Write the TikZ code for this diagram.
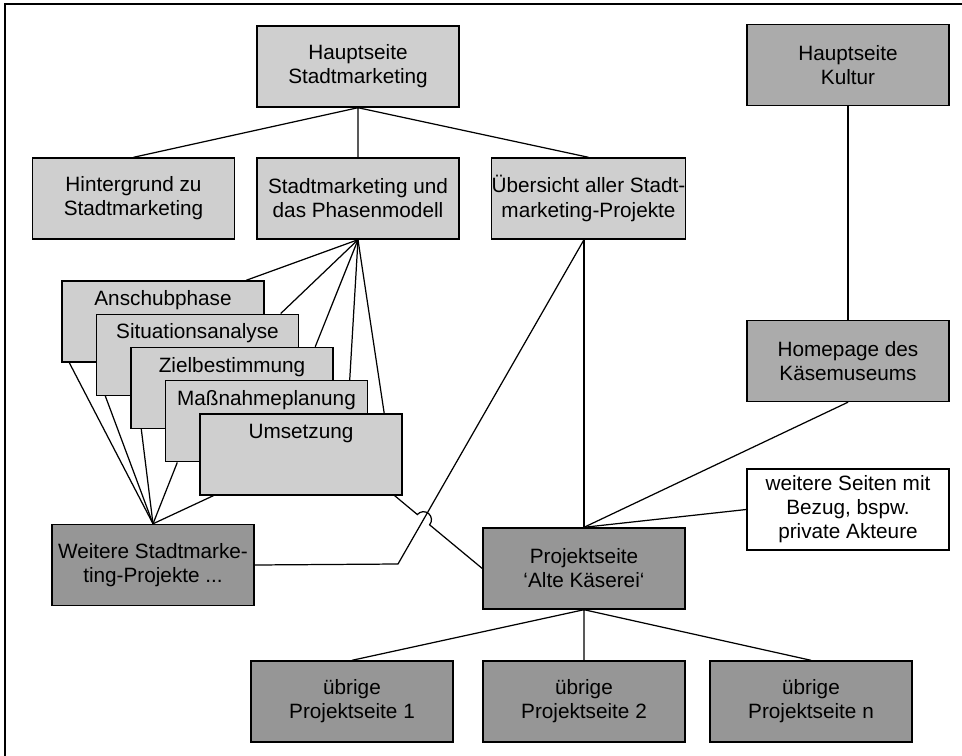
\documentclass[tikz,border=0pt]{standalone}
\usepackage{fontspec}
\setmainfont{Liberation Sans}
\usetikzlibrary{positioning,calc}

\tikzset{
  seite/.style={rectangle, draw, line width=0.8pt, minimum width=4.04cm,
    minimum height=1.62cm, inner xsep=0pt, align=center,
    font=\fontsize{11.8}{13.7}\selectfont},
  hell/.style={seite, fill=black!19},
  mittel/.style={seite, fill=black!33},
  dunkel/.style={seite, fill=black!41},
  weiss/.style={seite, fill=white},
  phase/.style={hell, inner ysep=4pt, text height=10pt, text depth=0.985cm},
  verbindung/.style={line width=0.7pt}
}

\begin{document}
\begin{tikzpicture}[on grid]
  \useasboundingbox (0,0) rectangle (19.24,-15.12);
  % Rahmen
  \draw[line width=1.4pt] (0.1,-15.12) -- (0.1,-0.08) -- (19.24,-0.08);

  % Stadtmarketing
  \node[hell] (hauptS) at (7.16,-1.33) {Hauptseite\\Stadtmarketing};
  \node[hell] (phasen) [below=2.64cm of hauptS] {Stadtmarketing und\\das Phasenmodell};
  \node[hell] (hinter) [left=4.49cm of phasen] {Hintergrund zu\\Stadtmarketing};
  \node[hell, minimum width=3.83cm] (ueber) [right=4.61cm of phasen]
    {Übersicht aller Stadt-\\marketing-Projekte};

  % Phasen, gestaffelt
  \foreach \txt [count=\i] in {Anschubphase, Situationsanalyse, Zielbestimmung,
      Maßnahmeplanung, Umsetzung}
    \node[phase] (ph\i) at ({2.57+0.69*\i},{-5.765-0.665*\i}) {\txt};

  % Kultur
  \node[mittel] (hauptK) at (16.96,-1.30) {Hauptseite\\Kultur};
  \node[mittel] (home) [below=5.92cm of hauptK] {Homepage des\\Käsemuseums};
  \node[weiss] (wseiten) [below=2.97cm of home] {weitere Seiten mit\\Bezug, bspw.\\private Akteure};

  % Projekte
  \node[dunkel] (wprojekte) at (3.06,-11.30) {Weitere Stadtmarke-\\ting-Projekte ...};
  \node[dunkel] (proj) at (11.68,-11.37) {Projektseite\\‘Alte Käserei‘};
  \node[dunkel] (ueb2) [below=2.66cm of proj] {übrige\\Projektseite 2};
  \node[dunkel] (ueb1) [left=4.64cm of ueb2] {übrige\\Projektseite 1};
  \node[dunkel] (uebn) [right=4.54cm of ueb2] {übrige\\Projektseite n};

  \coordinate (ueberfuss) at (proj.north |- ueber.south);
  \coordinate (knick) at (7.96,-11.28);
  \coordinate (umsEck) at ([xshift=-0.16cm]ph5.south east);
  \coordinate (hop) at (intersection of umsEck--proj.west and knick--ueberfuss);

  \begin{scope}[verbindung]
    \draw (hauptS.south) -- (hinter.north)
          (hauptS.south) -- (phasen.north)
          (hauptS.south) -- (ueber.north);
    \foreach \i in {1,...,5} {
      \draw (phasen.south) -- ([xshift=-0.37cm]ph\i.north east);
      \draw (wprojekte.north) -- ([xshift={0.13cm+0.03cm*\i}]ph\i.south west);
    }
    \draw (hauptK.south) -- (home.north);
    \draw (ueberfuss) -- (proj.north);
    \draw (wprojekte.east) -- (knick) -- (ueberfuss);
    \draw (home.south) -- (proj.north);
    \draw (wseiten.west) -- (proj.north);
    \draw (umsEck) -- ($(hop)!0.16cm!(umsEck)$)
          arc[start angle=140, end angle=-40, radius=0.16cm] -- (proj.west);
    \draw (proj.south) -- (ueb1.north)
          (proj.south) -- (ueb2.north)
          (proj.south) -- (uebn.north);
  \end{scope}
\end{tikzpicture}
\end{document}
